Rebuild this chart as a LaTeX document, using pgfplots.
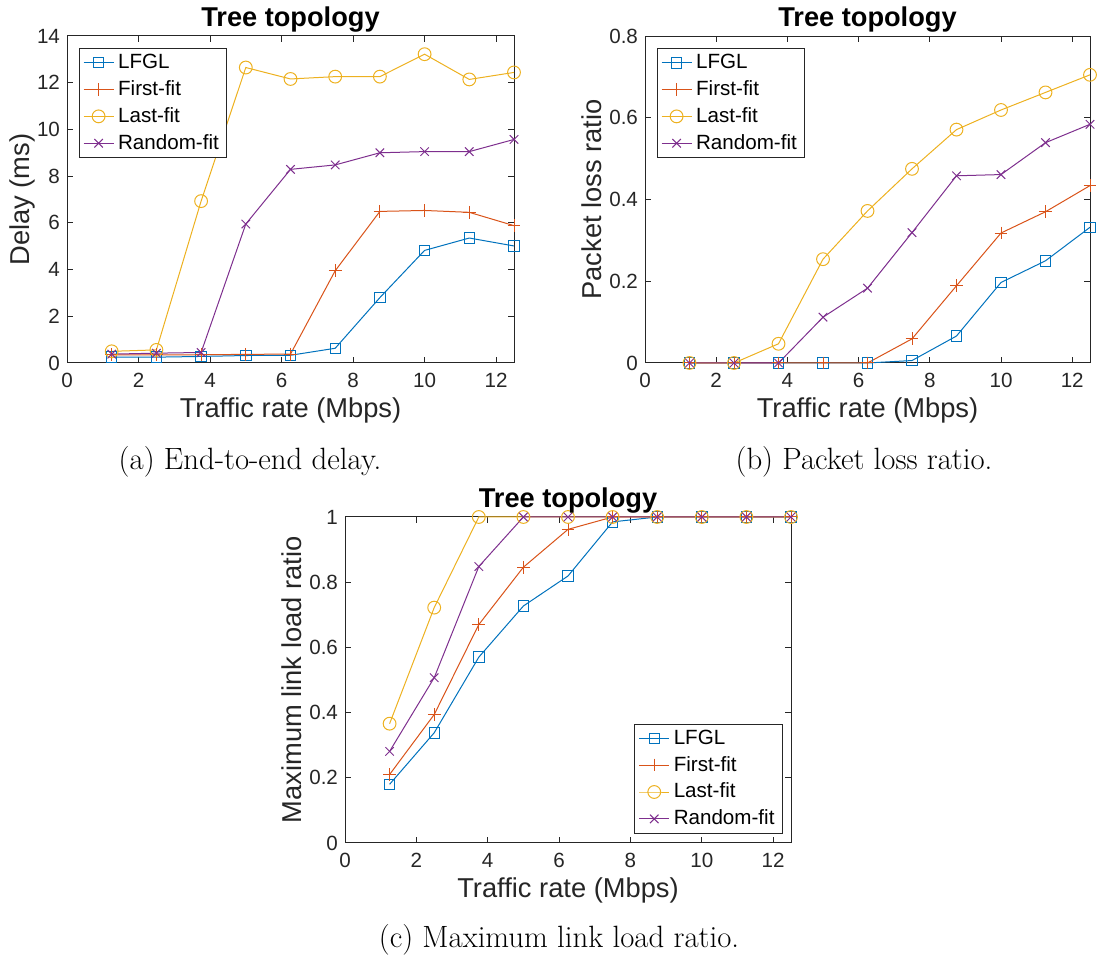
\documentclass[border=0pt]{standalone}
\usepackage{fontspec}
\setsansfont{Liberation Sans}
\usepackage{pgfplots}
\pgfplotsset{compat=1.18}

% MATLAB default line colours
\definecolor{mblue}{rgb}{0,0.447,0.741}
\definecolor{morange}{rgb}{0.85,0.325,0.098}
\definecolor{myellow}{rgb}{0.929,0.694,0.125}
\definecolor{mpurple}{rgb}{0.494,0.184,0.556}
\definecolor{axgray}{rgb}{0.15,0.15,0.15}

% Traffic rate (Mbps) vs. delay (ms)
\pgfplotstableread{
x      lfgl  first  last   rnd
1.25   0.25  0.35   0.50   0.38
2.5    0.25  0.35   0.56   0.42
3.75   0.28  0.35   6.93   0.45
5      0.32  0.37   12.65  5.95
6.25   0.33  0.38   12.16  8.29
7.5    0.63  3.95   12.26  8.48
8.75   2.80  6.49   12.26  9.00
10     4.82  6.53   13.22  9.05
11.25  5.35  6.45   12.14  9.05
12.5   5.01  5.88   12.44  9.57
}\delaydata

% Traffic rate (Mbps) vs. packet loss ratio
\pgfplotstableread{
x      lfgl   first  last   rnd
1.25   0      0      0      0
2.5    0      0      0      0
3.75   0      0      0.047  0
5      0      0      0.254  0.112
6.25   0      0      0.372  0.183
7.5    0.006  0.059  0.475  0.319
8.75   0.066  0.189  0.571  0.458
10     0.197  0.318  0.619  0.461
11.25  0.250  0.370  0.662  0.539
12.5   0.332  0.434  0.705  0.584
}\lossdata

% Traffic rate (Mbps) vs. maximum link load ratio
\pgfplotstableread{
x      lfgl   first  last   rnd
1.25   0.180  0.210  0.366  0.281
2.5    0.338  0.394  0.722  0.507
3.75   0.570  0.670  1      0.848
5      0.727  0.846  1      1
6.25   0.819  0.962  1      1
7.5    0.985  1      1      1
8.75   1      1      1      1
10     1      1      1      1
11.25  1      1      1      1
12.5   1      1      1      1
}\loaddata

\pgfplotsset{
  mlab/.style={
    scale only axis,
    height=163.5pt,
    xmin=0, xmax=12.5,
    xtick={0,2,...,12},
    ymin=0,
    clip=false,
    axis line style={axgray, line width=0.5pt},
    tick style={axgray, line width=0.5pt},
    tick align=inside,
    major tick length=3pt,
    /pgf/number format/assume math mode=true,
    yticklabel style={/pgf/number format/fixed},
    ticklabel style={font=\sffamily\fontsize{10.3}{12}\selectfont, text=axgray},
    xticklabel style={yshift=-1.5pt},
    label style={font=\sffamily\fontsize{13.65}{16}\selectfont, text=axgray},
    xlabel style={at={(axis description cs:0.5,0)}, anchor=base, yshift=-27.5pt},
    title style={font=\sffamily\bfseries\fontsize{13.6}{16}\selectfont,
                 at={(axis description cs:0.5,1)}, anchor=base, yshift=-1.2pt},
    title={Tree topology},
    xlabel={Traffic rate (Mbps)},
    legend style={font=\sffamily\fontsize{10.3}{12}\selectfont,
                  draw=axgray, line width=0.5pt, fill=white,
                  inner xsep=2pt, inner ysep=0.8pt,
                  row sep=0.5pt,
                  cells={anchor=west}},
    legend image code/.code={%
      \draw[mark repeat=2,mark phase=2,#1]
        plot coordinates {(0pt,0pt) (7.5pt,0pt) (15pt,0pt)};},
    every axis plot/.append style={line width=0.5pt},
  },
  sLFGL/.style={mblue, mark=square, mark size=2.6pt, mark options={solid}},
  sFirst/.style={morange, mark=+, mark size=3.2pt, mark options={solid}},
  sLast/.style={myellow, mark=o, mark size=3.2pt, mark options={solid}},
  sRnd/.style={mpurple, mark=x, mark size=3pt, mark options={solid}},
}

\begin{document}
\begin{tikzpicture}
\useasboundingbox (0,0) rectangle (549pt,478.5pt);

% (a) End-to-end delay
\begin{axis}[mlab,
  at={(33.5pt,297pt)}, anchor=south west,
  width=223.5pt,
  ymax=14, ytick={0,2,...,14},
  ylabel={Delay (ms)},
  ylabel style={at={(axis description cs:-0.1007,0.5)}, anchor=center},
  legend style={at={(axis description cs:0,1)}, anchor=north west, xshift=5.8pt, yshift=-6pt},
]
\addplot[sLFGL]  table[x=x, y=lfgl]  {\delaydata};
\addplot[sFirst] table[x=x, y=first] {\delaydata};
\addplot[sLast]  table[x=x, y=last]  {\delaydata};
\addplot[sRnd]   table[x=x, y=rnd]   {\delaydata};
\legend{LFGL, First-fit, Last-fit, Random-fit}
\end{axis}
\node[anchor=base, font=\fontsize{15.4}{18}\selectfont] at (125pt,243.5pt) {(a) End-to-end delay.};

% (b) Packet loss ratio
\begin{axis}[mlab,
  at={(322.5pt,297pt)}, anchor=south west,
  width=222.5pt,
  ymax=0.8, ytick={0,0.2,...,0.8},
  ylabel={Packet loss ratio},
  ylabel style={at={(axis description cs:-0.119,0.5)}, anchor=center},
  legend style={at={(axis description cs:0,1)}, anchor=north west, xshift=5.8pt, yshift=-6pt},
]
\addplot[sLFGL]  table[x=x, y=lfgl]  {\lossdata};
\addplot[sFirst] table[x=x, y=first] {\lossdata};
\addplot[sLast]  table[x=x, y=last]  {\lossdata};
\addplot[sRnd]   table[x=x, y=rnd]   {\lossdata};
\legend{LFGL, First-fit, Last-fit, Random-fit}
\end{axis}
\node[anchor=base, font=\fontsize{15.4}{18}\selectfont] at (432pt,243.5pt) {(b) Packet loss ratio.};

% (c) Maximum link load ratio
\begin{axis}[mlab,
  at={(172.5pt,57pt)}, anchor=south west,
  width=223pt, height=163pt,
  ymax=1, ytick={0,0.2,...,1},
  ylabel={Maximum link load ratio},
  ylabel style={at={(axis description cs:-0.119,0.5)}, anchor=center},
  legend style={at={(axis description cs:1,0)}, anchor=south east, xshift=-4pt, yshift=4.5pt},
]
\addplot[sLFGL]  table[x=x, y=lfgl]  {\loaddata};
\addplot[sFirst] table[x=x, y=first] {\loaddata};
\addplot[sLast]  table[x=x, y=last]  {\loaddata};
\addplot[sRnd]   table[x=x, y=rnd]   {\loaddata};
\legend{LFGL, First-fit, Last-fit, Random-fit}
\end{axis}
\node[anchor=base, font=\fontsize{15.4}{18}\selectfont] at (279.5pt,4.5pt) {(c) Maximum link load ratio.};
\end{tikzpicture}
\end{document}
